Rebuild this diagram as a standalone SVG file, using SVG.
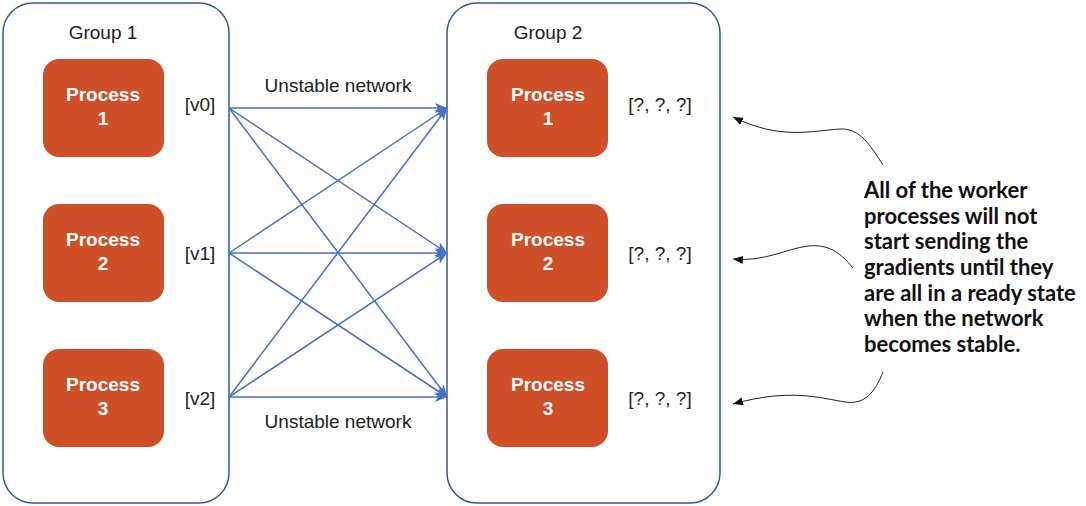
<svg xmlns="http://www.w3.org/2000/svg" width="1086" height="506" viewBox="0 0 1086 506">
<style>
.grp{fill:#fff;stroke:#2f5b9b;stroke-width:1.5}
.proc{fill:#cf4f28}
.pt{font-family:"Liberation Sans",Arial,sans-serif;font-weight:bold;font-size:19px;fill:#fff;text-anchor:middle}
.lbl{font-family:"Liberation Sans",Arial,sans-serif;font-size:19px;fill:#222;text-anchor:middle}
.conn{stroke:#4472c4;stroke-width:1.5;fill:none;marker-end:url(#ab)}
.call{stroke:#222;stroke-width:1;fill:none;marker-end:url(#ak)}
.note{font-family:Lato,"Open Sans",sans-serif;font-weight:bold;font-size:22px;fill:#111}
</style>
<defs>
<marker id="ab" viewBox="0 0 12 10" refX="12" refY="5" markerWidth="12" markerHeight="10" markerUnits="userSpaceOnUse" orient="auto"><path d="M0,0 L12,5 L0,10 L3,5 Z" fill="#4472c4"/></marker>
<marker id="ak" viewBox="0 0 10 8" refX="10" refY="4" markerWidth="10" markerHeight="8" markerUnits="userSpaceOnUse" orient="auto"><path d="M0,0 L10,4 L0,8 Z" fill="#111"/></marker>
</defs>
<rect width="1086" height="506" fill="#fff"/>
<g id="group1">
<rect class="grp" x="3" y="3" width="226" height="500" rx="30"/>
<text class="lbl" x="103" y="39">Group 1</text>
</g>
<g id="group2">
<rect class="grp" x="447" y="3" width="273" height="500" rx="30"/>
<text class="lbl" x="548" y="39">Group 2</text>
</g>
<g id="g1p1"><rect class="proc" x="43" y="59" width="121" height="98" rx="16"/><text class="pt" x="103" y="101">Process</text><text class="pt" x="103" y="125">1</text></g>
<g id="g1p2"><rect class="proc" x="43" y="204" width="121" height="98" rx="16"/><text class="pt" x="103" y="246">Process</text><text class="pt" x="103" y="270">2</text></g>
<g id="g1p3"><rect class="proc" x="43" y="349" width="121" height="98" rx="16"/><text class="pt" x="103" y="391">Process</text><text class="pt" x="103" y="415">3</text></g>
<g id="g2p1"><rect class="proc" x="487" y="59" width="121" height="98" rx="16"/><text class="pt" x="548" y="101">Process</text><text class="pt" x="548" y="125">1</text></g>
<g id="g2p2"><rect class="proc" x="487" y="204" width="121" height="98" rx="16"/><text class="pt" x="548" y="246">Process</text><text class="pt" x="548" y="270">2</text></g>
<g id="g2p3"><rect class="proc" x="487" y="349" width="121" height="98" rx="16"/><text class="pt" x="548" y="391">Process</text><text class="pt" x="548" y="415">3</text></g>
<g id="labels">
<text class="lbl" x="200" y="111">[v0]</text>
<text class="lbl" x="200" y="260">[v1]</text>
<text class="lbl" x="200" y="405">[v2]</text>
<text class="lbl" x="660" y="111">[?, ?, ?]</text>
<text class="lbl" x="660" y="260">[?, ?, ?]</text>
<text class="lbl" x="660" y="405">[?, ?, ?]</text>
<text class="lbl" x="338" y="92">Unstable network</text>
<text class="lbl" x="338" y="428">Unstable network</text>
</g>
<g id="connectors">
<line class="conn" x1="229" y1="108" x2="447" y2="108"/>
<line class="conn" x1="229" y1="108" x2="447" y2="253"/>
<line class="conn" x1="229" y1="108" x2="447" y2="397"/>
<line class="conn" x1="229" y1="253" x2="447" y2="108"/>
<line class="conn" x1="229" y1="253" x2="447" y2="253"/>
<line class="conn" x1="229" y1="253" x2="447" y2="397"/>
<line class="conn" x1="229" y1="397" x2="447" y2="108"/>
<line class="conn" x1="229" y1="397" x2="447" y2="253"/>
<line class="conn" x1="229" y1="397" x2="447" y2="397"/>
<path class="call" d="M883,165 C870,145 860,128 840,129 C810,131 780,140 733,117"/>
<path class="call" d="M853,268 C840,252 828,244 808,246 C785,249 765,262 733,259"/>
<path class="call" d="M883,372 C875,392 865,405 845,402 C820,398 790,388 733,404"/>
</g>
<g id="note">
<text class="note"><tspan x="864" y="198">All of the worker</tspan><tspan x="864" y="224">processes will not</tspan><tspan x="864" y="249">start sending the</tspan><tspan x="864" y="275">gradients until they</tspan><tspan x="864" y="301">are all in a ready state</tspan><tspan x="864" y="326">when the network</tspan><tspan x="864" y="352">becomes stable.</tspan></text>
</g>
</svg>
